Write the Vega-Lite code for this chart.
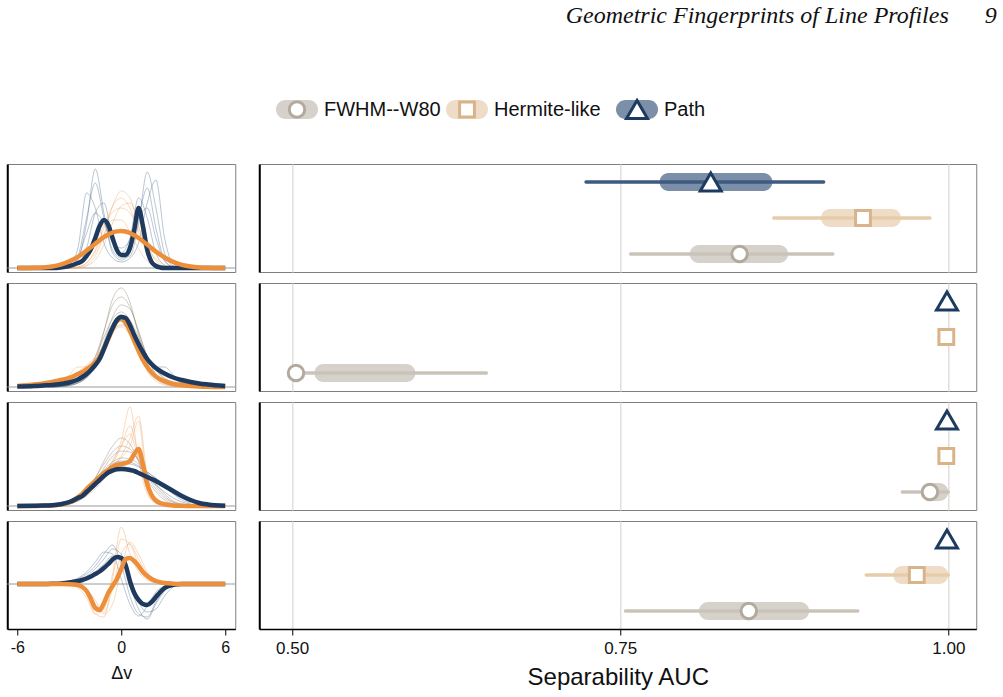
{
  "$schema": "https://vega.github.io/schema/vega-lite/v6.json",
  "padding": {"left": 6, "top": 4, "right": 28, "bottom": 0},
  "background": "white",
  "config": {
    "font": "Liberation Sans",
    "view": {"stroke": "#7f7f7f", "strokeWidth": 1},
    "axis": {"minExtent": 0},
    "line": {"strokeJoin": "round"}
  },
  "title": {
    "text": "Geometric Fingerprints of Line Profiles\u00a0\u00a0\u00a0\u00a0\u00a0\u00a09",
    "anchor": "end",
    "font": "Liberation Serif",
    "fontStyle": "italic",
    "fontWeight": "normal",
    "fontSize": 24,
    "color": "#111111",
    "dx": 20,
    "offset": 66
  },
  "datasets": {
    "base": [{"level": 0}],
    "auc": [
      {"r": 1, "set": "Path", "lo": 0.724, "q1": 0.78, "mid": 0.819, "q3": 0.866, "hi": 0.905},
      {"r": 1, "set": "Hermite-like", "lo": 0.867, "q1": 0.903, "mid": 0.935, "q3": 0.964, "hi": 0.986},
      {"r": 1, "set": "FWHM--W80", "lo": 0.758, "q1": 0.803, "mid": 0.841, "q3": 0.878, "hi": 0.912},
      {"r": 2, "set": "Path", "lo": 1, "q1": 1, "mid": 0.999, "q3": 1, "hi": 1},
      {"r": 2, "set": "Hermite-like", "lo": 0.993, "q1": 0.993, "mid": 0.9985, "q3": 1, "hi": 1},
      {"r": 2, "set": "FWHM--W80", "lo": 0.503, "q1": 0.517, "mid": 0.503, "q3": 0.594, "hi": 0.648},
      {"r": 3, "set": "Path", "lo": 1, "q1": 1, "mid": 0.999, "q3": 1, "hi": 1},
      {"r": 3, "set": "Hermite-like", "lo": 1, "q1": 1, "mid": 0.9985, "q3": 1, "hi": 1},
      {"r": 3, "set": "FWHM--W80", "lo": 0.965, "q1": 0.979, "mid": 0.986, "q3": 1, "hi": 1},
      {"r": 4, "set": "Path", "lo": 1, "q1": 1, "mid": 0.999, "q3": 1, "hi": 1},
      {"r": 4, "set": "Hermite-like", "lo": 0.9375, "q1": 0.958, "mid": 0.976, "q3": 1, "hi": 1},
      {"r": 4, "set": "FWHM--W80", "lo": 0.754, "q1": 0.81, "mid": 0.848, "q3": 0.894, "hi": 0.931}
    ],
    "prof": [
      {"r":1,"s":"P","c":0,"x":-6,"y":0},{"r":1,"s":"P","c":0,"x":-5,"y":0},{"r":1,"s":"P","c":0,"x":-4.5,"y":0},{"r":1,"s":"P","c":0,"x":-4,"y":0},{"r":1,"s":"P","c":0,"x":-3.5,"y":0.005},{"r":1,"s":"P","c":0,"x":-3,"y":0.02},{"r":1,"s":"P","c":0,"x":-2.5,"y":0.05},{"r":1,"s":"P","c":0,"x":-2.25,"y":0.07},{"r":1,"s":"P","c":0,"x":-2,"y":0.12},{"r":1,"s":"P","c":0,"x":-1.75,"y":0.19},{"r":1,"s":"P","c":0,"x":-1.5,"y":0.3},{"r":1,"s":"P","c":0,"x":-1.25,"y":0.42},{"r":1,"s":"P","c":0,"x":-1,"y":0.48},{"r":1,"s":"P","c":0,"x":-0.75,"y":0.43},{"r":1,"s":"P","c":0,"x":-0.5,"y":0.3},{"r":1,"s":"P","c":0,"x":-0.25,"y":0.18},{"r":1,"s":"P","c":0,"x":0,"y":0.13},{"r":1,"s":"P","c":0,"x":0.25,"y":0.13},{"r":1,"s":"P","c":0,"x":0.5,"y":0.2},{"r":1,"s":"P","c":0,"x":0.75,"y":0.38},{"r":1,"s":"P","c":0,"x":1,"y":0.6},{"r":1,"s":"P","c":0,"x":1.25,"y":0.42},{"r":1,"s":"P","c":0,"x":1.5,"y":0.18},{"r":1,"s":"P","c":0,"x":1.75,"y":0.06},{"r":1,"s":"P","c":0,"x":2,"y":0.02},{"r":1,"s":"P","c":0,"x":2.25,"y":0.005},{"r":1,"s":"P","c":0,"x":2.5,"y":0},{"r":1,"s":"P","c":0,"x":3,"y":0},{"r":1,"s":"P","c":0,"x":3.5,"y":0},{"r":1,"s":"P","c":0,"x":4,"y":0},{"r":1,"s":"P","c":0,"x":4.5,"y":0},{"r":1,"s":"P","c":0,"x":5,"y":0},{"r":1,"s":"P","c":0,"x":6,"y":0},
      {"r":1,"s":"H","c":0,"x":-6,"y":0},{"r":1,"s":"H","c":0,"x":-5,"y":0.003},{"r":1,"s":"H","c":0,"x":-4.5,"y":0.006},{"r":1,"s":"H","c":0,"x":-4,"y":0.015},{"r":1,"s":"H","c":0,"x":-3.5,"y":0.034},{"r":1,"s":"H","c":0,"x":-3,"y":0.066},{"r":1,"s":"H","c":0,"x":-2.5,"y":0.112},{"r":1,"s":"H","c":0,"x":-2.25,"y":0.14},{"r":1,"s":"H","c":0,"x":-2,"y":0.174},{"r":1,"s":"H","c":0,"x":-1.75,"y":0.208},{"r":1,"s":"H","c":0,"x":-1.5,"y":0.243},{"r":1,"s":"H","c":0,"x":-1.25,"y":0.277},{"r":1,"s":"H","c":0,"x":-1,"y":0.308},{"r":1,"s":"H","c":0,"x":-0.75,"y":0.334},{"r":1,"s":"H","c":0,"x":-0.5,"y":0.355},{"r":1,"s":"H","c":0,"x":-0.25,"y":0.366},{"r":1,"s":"H","c":0,"x":0,"y":0.37},{"r":1,"s":"H","c":0,"x":0.25,"y":0.365},{"r":1,"s":"H","c":0,"x":0.5,"y":0.35},{"r":1,"s":"H","c":0,"x":0.75,"y":0.327},{"r":1,"s":"H","c":0,"x":1,"y":0.3},{"r":1,"s":"H","c":0,"x":1.25,"y":0.268},{"r":1,"s":"H","c":0,"x":1.5,"y":0.234},{"r":1,"s":"H","c":0,"x":1.75,"y":0.198},{"r":1,"s":"H","c":0,"x":2,"y":0.164},{"r":1,"s":"H","c":0,"x":2.25,"y":0.133},{"r":1,"s":"H","c":0,"x":2.5,"y":0.105},{"r":1,"s":"H","c":0,"x":3,"y":0.061},{"r":1,"s":"H","c":0,"x":3.5,"y":0.032},{"r":1,"s":"H","c":0,"x":4,"y":0.015},{"r":1,"s":"H","c":0,"x":4.5,"y":0.006},{"r":1,"s":"H","c":0,"x":5,"y":0.003},{"r":1,"s":"H","c":0,"x":6,"y":0},
      {"r":1,"s":"P","c":1,"x":-4,"y":0},{"r":1,"s":"P","c":1,"x":-3.5,"y":0},{"r":1,"s":"P","c":1,"x":-3,"y":0.01},{"r":1,"s":"P","c":1,"x":-2.5,"y":0.08},{"r":1,"s":"P","c":1,"x":-2,"y":0.45},{"r":1,"s":"P","c":1,"x":-1.5,"y":0.99},{"r":1,"s":"P","c":1,"x":-1,"y":0.55},{"r":1,"s":"P","c":1,"x":-0.5,"y":0.15},{"r":1,"s":"P","c":1,"x":0,"y":0.08},{"r":1,"s":"P","c":1,"x":0.5,"y":0.15},{"r":1,"s":"P","c":1,"x":1,"y":0.5},{"r":1,"s":"P","c":1,"x":1.5,"y":0.8},{"r":1,"s":"P","c":1,"x":2,"y":0.4},{"r":1,"s":"P","c":1,"x":2.5,"y":0.08},{"r":1,"s":"P","c":1,"x":3,"y":0.01},{"r":1,"s":"P","c":1,"x":3.5,"y":0},{"r":1,"s":"P","c":1,"x":4,"y":0},
      {"r":1,"s":"P","c":2,"x":-4,"y":0},{"r":1,"s":"P","c":2,"x":-3.5,"y":0},{"r":1,"s":"P","c":2,"x":-3,"y":0.02},{"r":1,"s":"P","c":2,"x":-2.5,"y":0.12},{"r":1,"s":"P","c":2,"x":-2,"y":0.5},{"r":1,"s":"P","c":2,"x":-1.5,"y":0.85},{"r":1,"s":"P","c":2,"x":-1,"y":0.5},{"r":1,"s":"P","c":2,"x":-0.5,"y":0.18},{"r":1,"s":"P","c":2,"x":0,"y":0.1},{"r":1,"s":"P","c":2,"x":0.5,"y":0.12},{"r":1,"s":"P","c":2,"x":1,"y":0.45},{"r":1,"s":"P","c":2,"x":1.5,"y":0.96},{"r":1,"s":"P","c":2,"x":2,"y":0.6},{"r":1,"s":"P","c":2,"x":2.5,"y":0.15},{"r":1,"s":"P","c":2,"x":3,"y":0.02},{"r":1,"s":"P","c":2,"x":3.5,"y":0},{"r":1,"s":"P","c":2,"x":4,"y":0},
      {"r":1,"s":"P","c":3,"x":-4,"y":0},{"r":1,"s":"P","c":3,"x":-3.5,"y":0},{"r":1,"s":"P","c":3,"x":-3,"y":0.01},{"r":1,"s":"P","c":3,"x":-2.5,"y":0.04},{"r":1,"s":"P","c":3,"x":-2,"y":0.2},{"r":1,"s":"P","c":3,"x":-1.5,"y":0.55},{"r":1,"s":"P","c":3,"x":-1,"y":0.65},{"r":1,"s":"P","c":3,"x":-0.5,"y":0.3},{"r":1,"s":"P","c":3,"x":0,"y":0.15},{"r":1,"s":"P","c":3,"x":0.5,"y":0.3},{"r":1,"s":"P","c":3,"x":1,"y":0.7},{"r":1,"s":"P","c":3,"x":1.5,"y":0.5},{"r":1,"s":"P","c":3,"x":2,"y":0.15},{"r":1,"s":"P","c":3,"x":2.5,"y":0.03},{"r":1,"s":"P","c":3,"x":3,"y":0},{"r":1,"s":"P","c":3,"x":3.5,"y":0},{"r":1,"s":"P","c":3,"x":4,"y":0},
      {"r":1,"s":"P","c":4,"x":-4,"y":0},{"r":1,"s":"P","c":4,"x":-3.5,"y":0.01},{"r":1,"s":"P","c":4,"x":-3,"y":0.04},{"r":1,"s":"P","c":4,"x":-2.5,"y":0.2},{"r":1,"s":"P","c":4,"x":-2,"y":0.75},{"r":1,"s":"P","c":4,"x":-1.5,"y":0.6},{"r":1,"s":"P","c":4,"x":-1,"y":0.25},{"r":1,"s":"P","c":4,"x":-0.5,"y":0.1},{"r":1,"s":"P","c":4,"x":0,"y":0.06},{"r":1,"s":"P","c":4,"x":0.5,"y":0.1},{"r":1,"s":"P","c":4,"x":1,"y":0.25},{"r":1,"s":"P","c":4,"x":1.5,"y":0.65},{"r":1,"s":"P","c":4,"x":2,"y":0.88},{"r":1,"s":"P","c":4,"x":2.5,"y":0.3},{"r":1,"s":"P","c":4,"x":3,"y":0.04},{"r":1,"s":"P","c":4,"x":3.5,"y":0.01},{"r":1,"s":"P","c":4,"x":4,"y":0},
      {"r":1,"s":"P","c":5,"x":-4,"y":0},{"r":1,"s":"P","c":5,"x":-3.5,"y":0},{"r":1,"s":"P","c":5,"x":-3,"y":0.02},{"r":1,"s":"P","c":5,"x":-2.5,"y":0.1},{"r":1,"s":"P","c":5,"x":-2,"y":0.35},{"r":1,"s":"P","c":5,"x":-1.5,"y":0.55},{"r":1,"s":"P","c":5,"x":-1,"y":0.45},{"r":1,"s":"P","c":5,"x":-0.5,"y":0.25},{"r":1,"s":"P","c":5,"x":0,"y":0.2},{"r":1,"s":"P","c":5,"x":0.5,"y":0.28},{"r":1,"s":"P","c":5,"x":1,"y":0.5},{"r":1,"s":"P","c":5,"x":1.5,"y":0.6},{"r":1,"s":"P","c":5,"x":2,"y":0.3},{"r":1,"s":"P","c":5,"x":2.5,"y":0.07},{"r":1,"s":"P","c":5,"x":3,"y":0.01},{"r":1,"s":"P","c":5,"x":3.5,"y":0},{"r":1,"s":"P","c":5,"x":4,"y":0},
      {"r":1,"s":"H","c":1,"x":-4,"y":0},{"r":1,"s":"H","c":1,"x":-3.5,"y":0},{"r":1,"s":"H","c":1,"x":-3,"y":0},{"r":1,"s":"H","c":1,"x":-2.5,"y":0.005},{"r":1,"s":"H","c":1,"x":-2,"y":0.03},{"r":1,"s":"H","c":1,"x":-1.5,"y":0.12},{"r":1,"s":"H","c":1,"x":-1,"y":0.33},{"r":1,"s":"H","c":1,"x":-0.5,"y":0.62},{"r":1,"s":"H","c":1,"x":0,"y":0.77},{"r":1,"s":"H","c":1,"x":0.5,"y":0.7},{"r":1,"s":"H","c":1,"x":1,"y":0.42},{"r":1,"s":"H","c":1,"x":1.5,"y":0.16},{"r":1,"s":"H","c":1,"x":2,"y":0.04},{"r":1,"s":"H","c":1,"x":2.5,"y":0.005},{"r":1,"s":"H","c":1,"x":3,"y":0},{"r":1,"s":"H","c":1,"x":3.5,"y":0},{"r":1,"s":"H","c":1,"x":4,"y":0},
      {"r":1,"s":"H","c":2,"x":-4,"y":0},{"r":1,"s":"H","c":2,"x":-3.5,"y":0},{"r":1,"s":"H","c":2,"x":-3,"y":0},{"r":1,"s":"H","c":2,"x":-2.5,"y":0.01},{"r":1,"s":"H","c":2,"x":-2,"y":0.05},{"r":1,"s":"H","c":2,"x":-1.5,"y":0.18},{"r":1,"s":"H","c":2,"x":-1,"y":0.4},{"r":1,"s":"H","c":2,"x":-0.5,"y":0.62},{"r":1,"s":"H","c":2,"x":0,"y":0.7},{"r":1,"s":"H","c":2,"x":0.5,"y":0.6},{"r":1,"s":"H","c":2,"x":1,"y":0.36},{"r":1,"s":"H","c":2,"x":1.5,"y":0.15},{"r":1,"s":"H","c":2,"x":2,"y":0.04},{"r":1,"s":"H","c":2,"x":2.5,"y":0.01},{"r":1,"s":"H","c":2,"x":3,"y":0},{"r":1,"s":"H","c":2,"x":3.5,"y":0},{"r":1,"s":"H","c":2,"x":4,"y":0},
      {"r":1,"s":"H","c":3,"x":-4,"y":0},{"r":1,"s":"H","c":3,"x":-3.5,"y":0},{"r":1,"s":"H","c":3,"x":-3,"y":0},{"r":1,"s":"H","c":3,"x":-2.5,"y":0},{"r":1,"s":"H","c":3,"x":-2,"y":0.02},{"r":1,"s":"H","c":3,"x":-1.5,"y":0.08},{"r":1,"s":"H","c":3,"x":-1,"y":0.23},{"r":1,"s":"H","c":3,"x":-0.5,"y":0.45},{"r":1,"s":"H","c":3,"x":0,"y":0.62},{"r":1,"s":"H","c":3,"x":0.5,"y":0.65},{"r":1,"s":"H","c":3,"x":1,"y":0.48},{"r":1,"s":"H","c":3,"x":1.5,"y":0.23},{"r":1,"s":"H","c":3,"x":2,"y":0.07},{"r":1,"s":"H","c":3,"x":2.5,"y":0.015},{"r":1,"s":"H","c":3,"x":3,"y":0},{"r":1,"s":"H","c":3,"x":3.5,"y":0},{"r":1,"s":"H","c":3,"x":4,"y":0},
      {"r":1,"s":"H","c":4,"x":-4,"y":0},{"r":1,"s":"H","c":4,"x":-3.5,"y":0},{"r":1,"s":"H","c":4,"x":-3,"y":0.01},{"r":1,"s":"H","c":4,"x":-2.5,"y":0.03},{"r":1,"s":"H","c":4,"x":-2,"y":0.1},{"r":1,"s":"H","c":4,"x":-1.5,"y":0.25},{"r":1,"s":"H","c":4,"x":-1,"y":0.43},{"r":1,"s":"H","c":4,"x":-0.5,"y":0.56},{"r":1,"s":"H","c":4,"x":0,"y":0.6},{"r":1,"s":"H","c":4,"x":0.5,"y":0.55},{"r":1,"s":"H","c":4,"x":1,"y":0.4},{"r":1,"s":"H","c":4,"x":1.5,"y":0.22},{"r":1,"s":"H","c":4,"x":2,"y":0.09},{"r":1,"s":"H","c":4,"x":2.5,"y":0.03},{"r":1,"s":"H","c":4,"x":3,"y":0.005},{"r":1,"s":"H","c":4,"x":3.5,"y":0},{"r":1,"s":"H","c":4,"x":4,"y":0},
      {"r":1,"s":"H","c":5,"x":-4,"y":0},{"r":1,"s":"H","c":5,"x":-3.5,"y":0},{"r":1,"s":"H","c":5,"x":-3,"y":0},{"r":1,"s":"H","c":5,"x":-2.5,"y":0.01},{"r":1,"s":"H","c":5,"x":-2,"y":0.05},{"r":1,"s":"H","c":5,"x":-1.5,"y":0.16},{"r":1,"s":"H","c":5,"x":-1,"y":0.33},{"r":1,"s":"H","c":5,"x":-0.5,"y":0.48},{"r":1,"s":"H","c":5,"x":0,"y":0.48},{"r":1,"s":"H","c":5,"x":0.5,"y":0.36},{"r":1,"s":"H","c":5,"x":1,"y":0.19},{"r":1,"s":"H","c":5,"x":1.5,"y":0.07},{"r":1,"s":"H","c":5,"x":2,"y":0.02},{"r":1,"s":"H","c":5,"x":2.5,"y":0},{"r":1,"s":"H","c":5,"x":3,"y":0},{"r":1,"s":"H","c":5,"x":3.5,"y":0},{"r":1,"s":"H","c":5,"x":4,"y":0},

      {"r":2,"s":"P","c":0,"x":-6,"y":0.005},{"r":2,"s":"P","c":0,"x":-5,"y":0.01},{"r":2,"s":"P","c":0,"x":-4.5,"y":0.015},{"r":2,"s":"P","c":0,"x":-4,"y":0.02},{"r":2,"s":"P","c":0,"x":-3.5,"y":0.03},{"r":2,"s":"P","c":0,"x":-3,"y":0.045},{"r":2,"s":"P","c":0,"x":-2.5,"y":0.075},{"r":2,"s":"P","c":0,"x":-2.25,"y":0.1},{"r":2,"s":"P","c":0,"x":-2,"y":0.13},{"r":2,"s":"P","c":0,"x":-1.75,"y":0.17},{"r":2,"s":"P","c":0,"x":-1.5,"y":0.22},{"r":2,"s":"P","c":0,"x":-1.25,"y":0.28},{"r":2,"s":"P","c":0,"x":-1,"y":0.38},{"r":2,"s":"P","c":0,"x":-0.75,"y":0.49},{"r":2,"s":"P","c":0,"x":-0.5,"y":0.59},{"r":2,"s":"P","c":0,"x":-0.25,"y":0.67},{"r":2,"s":"P","c":0,"x":0,"y":0.7},{"r":2,"s":"P","c":0,"x":0.25,"y":0.69},{"r":2,"s":"P","c":0,"x":0.5,"y":0.62},{"r":2,"s":"P","c":0,"x":0.75,"y":0.52},{"r":2,"s":"P","c":0,"x":1,"y":0.43},{"r":2,"s":"P","c":0,"x":1.25,"y":0.35},{"r":2,"s":"P","c":0,"x":1.5,"y":0.28},{"r":2,"s":"P","c":0,"x":1.75,"y":0.23},{"r":2,"s":"P","c":0,"x":2,"y":0.19},{"r":2,"s":"P","c":0,"x":2.25,"y":0.16},{"r":2,"s":"P","c":0,"x":2.5,"y":0.135},{"r":2,"s":"P","c":0,"x":3,"y":0.095},{"r":2,"s":"P","c":0,"x":3.5,"y":0.07},{"r":2,"s":"P","c":0,"x":4,"y":0.05},{"r":2,"s":"P","c":0,"x":4.5,"y":0.035},{"r":2,"s":"P","c":0,"x":5,"y":0.025},{"r":2,"s":"P","c":0,"x":6,"y":0.01},
      {"r":2,"s":"H","c":0,"x":-6,"y":0.01},{"r":2,"s":"H","c":0,"x":-5,"y":0.025},{"r":2,"s":"H","c":0,"x":-4.5,"y":0.035},{"r":2,"s":"H","c":0,"x":-4,"y":0.05},{"r":2,"s":"H","c":0,"x":-3.5,"y":0.07},{"r":2,"s":"H","c":0,"x":-3,"y":0.09},{"r":2,"s":"H","c":0,"x":-2.5,"y":0.13},{"r":2,"s":"H","c":0,"x":-2.25,"y":0.15},{"r":2,"s":"H","c":0,"x":-2,"y":0.18},{"r":2,"s":"H","c":0,"x":-1.75,"y":0.21},{"r":2,"s":"H","c":0,"x":-1.5,"y":0.25},{"r":2,"s":"H","c":0,"x":-1.25,"y":0.3},{"r":2,"s":"H","c":0,"x":-1,"y":0.38},{"r":2,"s":"H","c":0,"x":-0.75,"y":0.48},{"r":2,"s":"H","c":0,"x":-0.5,"y":0.58},{"r":2,"s":"H","c":0,"x":-0.25,"y":0.66},{"r":2,"s":"H","c":0,"x":0,"y":0.68},{"r":2,"s":"H","c":0,"x":0.25,"y":0.64},{"r":2,"s":"H","c":0,"x":0.5,"y":0.56},{"r":2,"s":"H","c":0,"x":0.75,"y":0.46},{"r":2,"s":"H","c":0,"x":1,"y":0.36},{"r":2,"s":"H","c":0,"x":1.25,"y":0.27},{"r":2,"s":"H","c":0,"x":1.5,"y":0.2},{"r":2,"s":"H","c":0,"x":1.75,"y":0.145},{"r":2,"s":"H","c":0,"x":2,"y":0.105},{"r":2,"s":"H","c":0,"x":2.25,"y":0.078},{"r":2,"s":"H","c":0,"x":2.5,"y":0.058},{"r":2,"s":"H","c":0,"x":3,"y":0.033},{"r":2,"s":"H","c":0,"x":3.5,"y":0.019},{"r":2,"s":"H","c":0,"x":4,"y":0.011},{"r":2,"s":"H","c":0,"x":4.5,"y":0.006},{"r":2,"s":"H","c":0,"x":5,"y":0.003},{"r":2,"s":"H","c":0,"x":6,"y":0},
      {"r":2,"s":"F","c":1,"x":-4,"y":0},{"r":2,"s":"F","c":1,"x":-3.5,"y":0.005},{"r":2,"s":"F","c":1,"x":-3,"y":0.015},{"r":2,"s":"F","c":1,"x":-2.5,"y":0.04},{"r":2,"s":"F","c":1,"x":-2,"y":0.1},{"r":2,"s":"F","c":1,"x":-1.5,"y":0.25},{"r":2,"s":"F","c":1,"x":-1,"y":0.55},{"r":2,"s":"F","c":1,"x":-0.5,"y":0.88},{"r":2,"s":"F","c":1,"x":0,"y":0.99},{"r":2,"s":"F","c":1,"x":0.5,"y":0.85},{"r":2,"s":"F","c":1,"x":1,"y":0.52},{"r":2,"s":"F","c":1,"x":1.5,"y":0.24},{"r":2,"s":"F","c":1,"x":2,"y":0.09},{"r":2,"s":"F","c":1,"x":2.5,"y":0.035},{"r":2,"s":"F","c":1,"x":3,"y":0.012},{"r":2,"s":"F","c":1,"x":3.5,"y":0.004},{"r":2,"s":"F","c":1,"x":4,"y":0},
      {"r":2,"s":"F","c":2,"x":-4,"y":0.005},{"r":2,"s":"F","c":2,"x":-3.5,"y":0.01},{"r":2,"s":"F","c":2,"x":-3,"y":0.025},{"r":2,"s":"F","c":2,"x":-2.5,"y":0.06},{"r":2,"s":"F","c":2,"x":-2,"y":0.14},{"r":2,"s":"F","c":2,"x":-1.5,"y":0.3},{"r":2,"s":"F","c":2,"x":-1,"y":0.56},{"r":2,"s":"F","c":2,"x":-0.5,"y":0.82},{"r":2,"s":"F","c":2,"x":0,"y":0.9},{"r":2,"s":"F","c":2,"x":0.5,"y":0.8},{"r":2,"s":"F","c":2,"x":1,"y":0.55},{"r":2,"s":"F","c":2,"x":1.5,"y":0.3},{"r":2,"s":"F","c":2,"x":2,"y":0.13},{"r":2,"s":"F","c":2,"x":2.5,"y":0.05},{"r":2,"s":"F","c":2,"x":3,"y":0.02},{"r":2,"s":"F","c":2,"x":3.5,"y":0.008},{"r":2,"s":"F","c":2,"x":4,"y":0.003},
      {"r":2,"s":"F","c":3,"x":-4,"y":0},{"r":2,"s":"F","c":3,"x":-3.5,"y":0.005},{"r":2,"s":"F","c":3,"x":-3,"y":0.015},{"r":2,"s":"F","c":3,"x":-2.5,"y":0.04},{"r":2,"s":"F","c":3,"x":-2,"y":0.1},{"r":2,"s":"F","c":3,"x":-1.5,"y":0.22},{"r":2,"s":"F","c":3,"x":-1,"y":0.45},{"r":2,"s":"F","c":3,"x":-0.5,"y":0.7},{"r":2,"s":"F","c":3,"x":0,"y":0.82},{"r":2,"s":"F","c":3,"x":0.5,"y":0.78},{"r":2,"s":"F","c":3,"x":1,"y":0.56},{"r":2,"s":"F","c":3,"x":1.5,"y":0.3},{"r":2,"s":"F","c":3,"x":2,"y":0.12},{"r":2,"s":"F","c":3,"x":2.5,"y":0.045},{"r":2,"s":"F","c":3,"x":3,"y":0.015},{"r":2,"s":"F","c":3,"x":3.5,"y":0.005},{"r":2,"s":"F","c":3,"x":4,"y":0},
      {"r":2,"s":"F","c":4,"x":-4,"y":0.01},{"r":2,"s":"F","c":4,"x":-3.5,"y":0.02},{"r":2,"s":"F","c":4,"x":-3,"y":0.04},{"r":2,"s":"F","c":4,"x":-2.5,"y":0.08},{"r":2,"s":"F","c":4,"x":-2,"y":0.16},{"r":2,"s":"F","c":4,"x":-1.5,"y":0.3},{"r":2,"s":"F","c":4,"x":-1,"y":0.5},{"r":2,"s":"F","c":4,"x":-0.5,"y":0.68},{"r":2,"s":"F","c":4,"x":0,"y":0.75},{"r":2,"s":"F","c":4,"x":0.5,"y":0.67},{"r":2,"s":"F","c":4,"x":1,"y":0.5},{"r":2,"s":"F","c":4,"x":1.5,"y":0.31},{"r":2,"s":"F","c":4,"x":2,"y":0.17},{"r":2,"s":"F","c":4,"x":2.5,"y":0.08},{"r":2,"s":"F","c":4,"x":3,"y":0.035},{"r":2,"s":"F","c":4,"x":3.5,"y":0.015},{"r":2,"s":"F","c":4,"x":4,"y":0.005},
      {"r":2,"s":"F","c":5,"x":-4,"y":0.01},{"r":2,"s":"F","c":5,"x":-3.5,"y":0.02},{"r":2,"s":"F","c":5,"x":-3,"y":0.04},{"r":2,"s":"F","c":5,"x":-2.5,"y":0.08},{"r":2,"s":"F","c":5,"x":-2,"y":0.15},{"r":2,"s":"F","c":5,"x":-1.5,"y":0.26},{"r":2,"s":"F","c":5,"x":-1,"y":0.42},{"r":2,"s":"F","c":5,"x":-0.5,"y":0.56},{"r":2,"s":"F","c":5,"x":0,"y":0.62},{"r":2,"s":"F","c":5,"x":0.5,"y":0.57},{"r":2,"s":"F","c":5,"x":1,"y":0.44},{"r":2,"s":"F","c":5,"x":1.5,"y":0.29},{"r":2,"s":"F","c":5,"x":2,"y":0.17},{"r":2,"s":"F","c":5,"x":2.5,"y":0.09},{"r":2,"s":"F","c":5,"x":3,"y":0.045},{"r":2,"s":"F","c":5,"x":3.5,"y":0.02},{"r":2,"s":"F","c":5,"x":4,"y":0.01},
      {"r":2,"s":"H","c":1,"x":-4,"y":0.02},{"r":2,"s":"H","c":1,"x":-3.5,"y":0.05},{"r":2,"s":"H","c":1,"x":-3,"y":0.12},{"r":2,"s":"H","c":1,"x":-2.5,"y":0.2},{"r":2,"s":"H","c":1,"x":-2,"y":0.2},{"r":2,"s":"H","c":1,"x":-1.5,"y":0.25},{"r":2,"s":"H","c":1,"x":-1,"y":0.4},{"r":2,"s":"H","c":1,"x":-0.5,"y":0.6},{"r":2,"s":"H","c":1,"x":0,"y":0.68},{"r":2,"s":"H","c":1,"x":0.5,"y":0.58},{"r":2,"s":"H","c":1,"x":1,"y":0.38},{"r":2,"s":"H","c":1,"x":1.5,"y":0.2},{"r":2,"s":"H","c":1,"x":2,"y":0.09},{"r":2,"s":"H","c":1,"x":2.5,"y":0.04},{"r":2,"s":"H","c":1,"x":3,"y":0.015},{"r":2,"s":"H","c":1,"x":3.5,"y":0.005},{"r":2,"s":"H","c":1,"x":4,"y":0},
      {"r":2,"s":"H","c":2,"x":-4,"y":0.01},{"r":2,"s":"H","c":2,"x":-3.5,"y":0.03},{"r":2,"s":"H","c":2,"x":-3,"y":0.07},{"r":2,"s":"H","c":2,"x":-2.5,"y":0.12},{"r":2,"s":"H","c":2,"x":-2,"y":0.16},{"r":2,"s":"H","c":2,"x":-1.5,"y":0.24},{"r":2,"s":"H","c":2,"x":-1,"y":0.42},{"r":2,"s":"H","c":2,"x":-0.5,"y":0.62},{"r":2,"s":"H","c":2,"x":0,"y":0.72},{"r":2,"s":"H","c":2,"x":0.5,"y":0.6},{"r":2,"s":"H","c":2,"x":1,"y":0.36},{"r":2,"s":"H","c":2,"x":1.5,"y":0.16},{"r":2,"s":"H","c":2,"x":2,"y":0.06},{"r":2,"s":"H","c":2,"x":2.5,"y":0.02},{"r":2,"s":"H","c":2,"x":3,"y":0.005},{"r":2,"s":"H","c":2,"x":3.5,"y":0},{"r":2,"s":"H","c":2,"x":4,"y":0},
      {"r":2,"s":"H","c":3,"x":-4,"y":0.03},{"r":2,"s":"H","c":3,"x":-3.5,"y":0.06},{"r":2,"s":"H","c":3,"x":-3,"y":0.1},{"r":2,"s":"H","c":3,"x":-2.5,"y":0.15},{"r":2,"s":"H","c":3,"x":-2,"y":0.22},{"r":2,"s":"H","c":3,"x":-1.5,"y":0.3},{"r":2,"s":"H","c":3,"x":-1,"y":0.42},{"r":2,"s":"H","c":3,"x":-0.5,"y":0.55},{"r":2,"s":"H","c":3,"x":0,"y":0.6},{"r":2,"s":"H","c":3,"x":0.5,"y":0.52},{"r":2,"s":"H","c":3,"x":1,"y":0.35},{"r":2,"s":"H","c":3,"x":1.5,"y":0.18},{"r":2,"s":"H","c":3,"x":2,"y":0.08},{"r":2,"s":"H","c":3,"x":2.5,"y":0.03},{"r":2,"s":"H","c":3,"x":3,"y":0.01},{"r":2,"s":"H","c":3,"x":3.5,"y":0},{"r":2,"s":"H","c":3,"x":4,"y":0},
      {"r":2,"s":"P","c":1,"x":-4,"y":0},{"r":2,"s":"P","c":1,"x":-3.5,"y":0.005},{"r":2,"s":"P","c":1,"x":-3,"y":0.02},{"r":2,"s":"P","c":1,"x":-2.5,"y":0.05},{"r":2,"s":"P","c":1,"x":-2,"y":0.1},{"r":2,"s":"P","c":1,"x":-1.5,"y":0.2},{"r":2,"s":"P","c":1,"x":-1,"y":0.4},{"r":2,"s":"P","c":1,"x":-0.5,"y":0.62},{"r":2,"s":"P","c":1,"x":0,"y":0.7},{"r":2,"s":"P","c":1,"x":0.5,"y":0.58},{"r":2,"s":"P","c":1,"x":1,"y":0.38},{"r":2,"s":"P","c":1,"x":1.5,"y":0.24},{"r":2,"s":"P","c":1,"x":2,"y":0.2},{"r":2,"s":"P","c":1,"x":2.5,"y":0.2},{"r":2,"s":"P","c":1,"x":3,"y":0.12},{"r":2,"s":"P","c":1,"x":3.5,"y":0.05},{"r":2,"s":"P","c":1,"x":4,"y":0.02},
      {"r":2,"s":"P","c":2,"x":-4,"y":0.005},{"r":2,"s":"P","c":2,"x":-3.5,"y":0.01},{"r":2,"s":"P","c":2,"x":-3,"y":0.03},{"r":2,"s":"P","c":2,"x":-2.5,"y":0.06},{"r":2,"s":"P","c":2,"x":-2,"y":0.12},{"r":2,"s":"P","c":2,"x":-1.5,"y":0.24},{"r":2,"s":"P","c":2,"x":-1,"y":0.44},{"r":2,"s":"P","c":2,"x":-0.5,"y":0.64},{"r":2,"s":"P","c":2,"x":0,"y":0.72},{"r":2,"s":"P","c":2,"x":0.5,"y":0.64},{"r":2,"s":"P","c":2,"x":1,"y":0.45},{"r":2,"s":"P","c":2,"x":1.5,"y":0.3},{"r":2,"s":"P","c":2,"x":2,"y":0.2},{"r":2,"s":"P","c":2,"x":2.5,"y":0.14},{"r":2,"s":"P","c":2,"x":3,"y":0.08},{"r":2,"s":"P","c":2,"x":3.5,"y":0.04},{"r":2,"s":"P","c":2,"x":4,"y":0.015},
      {"r":2,"s":"P","c":3,"x":-4,"y":0},{"r":2,"s":"P","c":3,"x":-3.5,"y":0.005},{"r":2,"s":"P","c":3,"x":-3,"y":0.015},{"r":2,"s":"P","c":3,"x":-2.5,"y":0.04},{"r":2,"s":"P","c":3,"x":-2,"y":0.09},{"r":2,"s":"P","c":3,"x":-1.5,"y":0.2},{"r":2,"s":"P","c":3,"x":-1,"y":0.38},{"r":2,"s":"P","c":3,"x":-0.5,"y":0.58},{"r":2,"s":"P","c":3,"x":0,"y":0.66},{"r":2,"s":"P","c":3,"x":0.5,"y":0.6},{"r":2,"s":"P","c":3,"x":1,"y":0.42},{"r":2,"s":"P","c":3,"x":1.5,"y":0.26},{"r":2,"s":"P","c":3,"x":2,"y":0.18},{"r":2,"s":"P","c":3,"x":2.5,"y":0.15},{"r":2,"s":"P","c":3,"x":3,"y":0.09},{"r":2,"s":"P","c":3,"x":3.5,"y":0.04},{"r":2,"s":"P","c":3,"x":4,"y":0.01},

      {"r":3,"s":"P","c":0,"x":-6,"y":0},{"r":3,"s":"P","c":0,"x":-5,"y":0.002},{"r":3,"s":"P","c":0,"x":-4.5,"y":0.004},{"r":3,"s":"P","c":0,"x":-4,"y":0.008},{"r":3,"s":"P","c":0,"x":-3.5,"y":0.018},{"r":3,"s":"P","c":0,"x":-3,"y":0.04},{"r":3,"s":"P","c":0,"x":-2.5,"y":0.08},{"r":3,"s":"P","c":0,"x":-2.25,"y":0.1},{"r":3,"s":"P","c":0,"x":-2,"y":0.14},{"r":3,"s":"P","c":0,"x":-1.75,"y":0.18},{"r":3,"s":"P","c":0,"x":-1.5,"y":0.22},{"r":3,"s":"P","c":0,"x":-1.25,"y":0.26},{"r":3,"s":"P","c":0,"x":-1,"y":0.3},{"r":3,"s":"P","c":0,"x":-0.75,"y":0.335},{"r":3,"s":"P","c":0,"x":-0.5,"y":0.355},{"r":3,"s":"P","c":0,"x":-0.25,"y":0.368},{"r":3,"s":"P","c":0,"x":0,"y":0.37},{"r":3,"s":"P","c":0,"x":0.25,"y":0.368},{"r":3,"s":"P","c":0,"x":0.5,"y":0.36},{"r":3,"s":"P","c":0,"x":0.75,"y":0.35},{"r":3,"s":"P","c":0,"x":1,"y":0.33},{"r":3,"s":"P","c":0,"x":1.25,"y":0.31},{"r":3,"s":"P","c":0,"x":1.5,"y":0.29},{"r":3,"s":"P","c":0,"x":1.75,"y":0.27},{"r":3,"s":"P","c":0,"x":2,"y":0.25},{"r":3,"s":"P","c":0,"x":2.25,"y":0.225},{"r":3,"s":"P","c":0,"x":2.5,"y":0.2},{"r":3,"s":"P","c":0,"x":3,"y":0.15},{"r":3,"s":"P","c":0,"x":3.5,"y":0.1},{"r":3,"s":"P","c":0,"x":4,"y":0.06},{"r":3,"s":"P","c":0,"x":4.5,"y":0.03},{"r":3,"s":"P","c":0,"x":5,"y":0.015},{"r":3,"s":"P","c":0,"x":6,"y":0.002},
      {"r":3,"s":"H","c":0,"x":-6,"y":0},{"r":3,"s":"H","c":0,"x":-5,"y":0},{"r":3,"s":"H","c":0,"x":-4.5,"y":0.003},{"r":3,"s":"H","c":0,"x":-4,"y":0.006},{"r":3,"s":"H","c":0,"x":-3.5,"y":0.015},{"r":3,"s":"H","c":0,"x":-3,"y":0.035},{"r":3,"s":"H","c":0,"x":-2.5,"y":0.09},{"r":3,"s":"H","c":0,"x":-2.25,"y":0.12},{"r":3,"s":"H","c":0,"x":-2,"y":0.17},{"r":3,"s":"H","c":0,"x":-1.75,"y":0.21},{"r":3,"s":"H","c":0,"x":-1.5,"y":0.25},{"r":3,"s":"H","c":0,"x":-1.25,"y":0.29},{"r":3,"s":"H","c":0,"x":-1,"y":0.33},{"r":3,"s":"H","c":0,"x":-0.75,"y":0.36},{"r":3,"s":"H","c":0,"x":-0.5,"y":0.39},{"r":3,"s":"H","c":0,"x":-0.25,"y":0.41},{"r":3,"s":"H","c":0,"x":0,"y":0.42},{"r":3,"s":"H","c":0,"x":0.25,"y":0.43},{"r":3,"s":"H","c":0,"x":0.5,"y":0.45},{"r":3,"s":"H","c":0,"x":0.75,"y":0.52},{"r":3,"s":"H","c":0,"x":1,"y":0.57},{"r":3,"s":"H","c":0,"x":1.25,"y":0.42},{"r":3,"s":"H","c":0,"x":1.5,"y":0.22},{"r":3,"s":"H","c":0,"x":1.75,"y":0.11},{"r":3,"s":"H","c":0,"x":2,"y":0.055},{"r":3,"s":"H","c":0,"x":2.25,"y":0.03},{"r":3,"s":"H","c":0,"x":2.5,"y":0.018},{"r":3,"s":"H","c":0,"x":3,"y":0.006},{"r":3,"s":"H","c":0,"x":3.5,"y":0.002},{"r":3,"s":"H","c":0,"x":4,"y":0},{"r":3,"s":"H","c":0,"x":4.5,"y":0},{"r":3,"s":"H","c":0,"x":5,"y":0},{"r":3,"s":"H","c":0,"x":6,"y":0},
      {"r":3,"s":"F","c":1,"x":-4,"y":0},{"r":3,"s":"F","c":1,"x":-3.5,"y":0.01},{"r":3,"s":"F","c":1,"x":-3,"y":0.03},{"r":3,"s":"F","c":1,"x":-2.5,"y":0.07},{"r":3,"s":"F","c":1,"x":-2,"y":0.15},{"r":3,"s":"F","c":1,"x":-1.5,"y":0.28},{"r":3,"s":"F","c":1,"x":-1,"y":0.45},{"r":3,"s":"F","c":1,"x":-0.5,"y":0.6},{"r":3,"s":"F","c":1,"x":0,"y":0.68},{"r":3,"s":"F","c":1,"x":0.5,"y":0.62},{"r":3,"s":"F","c":1,"x":1,"y":0.45},{"r":3,"s":"F","c":1,"x":1.5,"y":0.27},{"r":3,"s":"F","c":1,"x":2,"y":0.14},{"r":3,"s":"F","c":1,"x":2.5,"y":0.06},{"r":3,"s":"F","c":1,"x":3,"y":0.02},{"r":3,"s":"F","c":1,"x":3.5,"y":0.01},{"r":3,"s":"F","c":1,"x":4,"y":0},
      {"r":3,"s":"F","c":2,"x":-4,"y":0.005},{"r":3,"s":"F","c":2,"x":-3.5,"y":0.015},{"r":3,"s":"F","c":2,"x":-3,"y":0.04},{"r":3,"s":"F","c":2,"x":-2.5,"y":0.08},{"r":3,"s":"F","c":2,"x":-2,"y":0.16},{"r":3,"s":"F","c":2,"x":-1.5,"y":0.28},{"r":3,"s":"F","c":2,"x":-1,"y":0.42},{"r":3,"s":"F","c":2,"x":-0.5,"y":0.54},{"r":3,"s":"F","c":2,"x":0,"y":0.6},{"r":3,"s":"F","c":2,"x":0.5,"y":0.57},{"r":3,"s":"F","c":2,"x":1,"y":0.45},{"r":3,"s":"F","c":2,"x":1.5,"y":0.3},{"r":3,"s":"F","c":2,"x":2,"y":0.17},{"r":3,"s":"F","c":2,"x":2.5,"y":0.08},{"r":3,"s":"F","c":2,"x":3,"y":0.035},{"r":3,"s":"F","c":2,"x":3.5,"y":0.013},{"r":3,"s":"F","c":2,"x":4,"y":0.005},
      {"r":3,"s":"F","c":3,"x":-4,"y":0},{"r":3,"s":"F","c":3,"x":-3.5,"y":0.01},{"r":3,"s":"F","c":3,"x":-3,"y":0.03},{"r":3,"s":"F","c":3,"x":-2.5,"y":0.07},{"r":3,"s":"F","c":3,"x":-2,"y":0.14},{"r":3,"s":"F","c":3,"x":-1.5,"y":0.25},{"r":3,"s":"F","c":3,"x":-1,"y":0.38},{"r":3,"s":"F","c":3,"x":-0.5,"y":0.5},{"r":3,"s":"F","c":3,"x":0,"y":0.55},{"r":3,"s":"F","c":3,"x":0.5,"y":0.54},{"r":3,"s":"F","c":3,"x":1,"y":0.46},{"r":3,"s":"F","c":3,"x":1.5,"y":0.33},{"r":3,"s":"F","c":3,"x":2,"y":0.2},{"r":3,"s":"F","c":3,"x":2.5,"y":0.1},{"r":3,"s":"F","c":3,"x":3,"y":0.04},{"r":3,"s":"F","c":3,"x":3.5,"y":0.015},{"r":3,"s":"F","c":3,"x":4,"y":0.005},
      {"r":3,"s":"F","c":4,"x":-4,"y":0.005},{"r":3,"s":"F","c":4,"x":-3.5,"y":0.015},{"r":3,"s":"F","c":4,"x":-3,"y":0.04},{"r":3,"s":"F","c":4,"x":-2.5,"y":0.08},{"r":3,"s":"F","c":4,"x":-2,"y":0.15},{"r":3,"s":"F","c":4,"x":-1.5,"y":0.25},{"r":3,"s":"F","c":4,"x":-1,"y":0.36},{"r":3,"s":"F","c":4,"x":-0.5,"y":0.44},{"r":3,"s":"F","c":4,"x":0,"y":0.48},{"r":3,"s":"F","c":4,"x":0.5,"y":0.47},{"r":3,"s":"F","c":4,"x":1,"y":0.42},{"r":3,"s":"F","c":4,"x":1.5,"y":0.33},{"r":3,"s":"F","c":4,"x":2,"y":0.22},{"r":3,"s":"F","c":4,"x":2.5,"y":0.12},{"r":3,"s":"F","c":4,"x":3,"y":0.05},{"r":3,"s":"F","c":4,"x":3.5,"y":0.02},{"r":3,"s":"F","c":4,"x":4,"y":0.008},
      {"r":3,"s":"H","c":1,"x":-4,"y":0},{"r":3,"s":"H","c":1,"x":-3.5,"y":0.01},{"r":3,"s":"H","c":1,"x":-3,"y":0.03},{"r":3,"s":"H","c":1,"x":-2.5,"y":0.07},{"r":3,"s":"H","c":1,"x":-2,"y":0.14},{"r":3,"s":"H","c":1,"x":-1.5,"y":0.22},{"r":3,"s":"H","c":1,"x":-1,"y":0.32},{"r":3,"s":"H","c":1,"x":-0.5,"y":0.45},{"r":3,"s":"H","c":1,"x":0,"y":0.65},{"r":3,"s":"H","c":1,"x":0.5,"y":0.99},{"r":3,"s":"H","c":1,"x":1,"y":0.45},{"r":3,"s":"H","c":1,"x":1.5,"y":0.12},{"r":3,"s":"H","c":1,"x":2,"y":0.03},{"r":3,"s":"H","c":1,"x":2.5,"y":0.01},{"r":3,"s":"H","c":1,"x":3,"y":0},{"r":3,"s":"H","c":1,"x":3.5,"y":0},{"r":3,"s":"H","c":1,"x":4,"y":0},
      {"r":3,"s":"H","c":2,"x":-4,"y":0},{"r":3,"s":"H","c":2,"x":-3.5,"y":0.005},{"r":3,"s":"H","c":2,"x":-3,"y":0.02},{"r":3,"s":"H","c":2,"x":-2.5,"y":0.06},{"r":3,"s":"H","c":2,"x":-2,"y":0.12},{"r":3,"s":"H","c":2,"x":-1.5,"y":0.2},{"r":3,"s":"H","c":2,"x":-1,"y":0.3},{"r":3,"s":"H","c":2,"x":-0.5,"y":0.4},{"r":3,"s":"H","c":2,"x":0,"y":0.5},{"r":3,"s":"H","c":2,"x":0.5,"y":0.68},{"r":3,"s":"H","c":2,"x":1,"y":0.9},{"r":3,"s":"H","c":2,"x":1.5,"y":0.3},{"r":3,"s":"H","c":2,"x":2,"y":0.06},{"r":3,"s":"H","c":2,"x":2.5,"y":0.01},{"r":3,"s":"H","c":2,"x":3,"y":0},{"r":3,"s":"H","c":2,"x":3.5,"y":0},{"r":3,"s":"H","c":2,"x":4,"y":0},
      {"r":3,"s":"H","c":3,"x":-4,"y":0},{"r":3,"s":"H","c":3,"x":-3.5,"y":0},{"r":3,"s":"H","c":3,"x":-3,"y":0.02},{"r":3,"s":"H","c":3,"x":-2.5,"y":0.05},{"r":3,"s":"H","c":3,"x":-2,"y":0.11},{"r":3,"s":"H","c":3,"x":-1.5,"y":0.2},{"r":3,"s":"H","c":3,"x":-1,"y":0.3},{"r":3,"s":"H","c":3,"x":-0.5,"y":0.42},{"r":3,"s":"H","c":3,"x":0,"y":0.6},{"r":3,"s":"H","c":3,"x":0.5,"y":0.8},{"r":3,"s":"H","c":3,"x":1,"y":0.5},{"r":3,"s":"H","c":3,"x":1.5,"y":0.15},{"r":3,"s":"H","c":3,"x":2,"y":0.03},{"r":3,"s":"H","c":3,"x":2.5,"y":0.005},{"r":3,"s":"H","c":3,"x":3,"y":0},{"r":3,"s":"H","c":3,"x":3.5,"y":0},{"r":3,"s":"H","c":3,"x":4,"y":0},
      {"r":3,"s":"H","c":4,"x":-4,"y":0},{"r":3,"s":"H","c":4,"x":-3.5,"y":0},{"r":3,"s":"H","c":4,"x":-3,"y":0.03},{"r":3,"s":"H","c":4,"x":-2.5,"y":0.07},{"r":3,"s":"H","c":4,"x":-2,"y":0.14},{"r":3,"s":"H","c":4,"x":-1.5,"y":0.23},{"r":3,"s":"H","c":4,"x":-1,"y":0.33},{"r":3,"s":"H","c":4,"x":-0.5,"y":0.45},{"r":3,"s":"H","c":4,"x":0,"y":0.6},{"r":3,"s":"H","c":4,"x":0.5,"y":0.72},{"r":3,"s":"H","c":4,"x":1,"y":0.45},{"r":3,"s":"H","c":4,"x":1.5,"y":0.17},{"r":3,"s":"H","c":4,"x":2,"y":0.05},{"r":3,"s":"H","c":4,"x":2.5,"y":0.01},{"r":3,"s":"H","c":4,"x":3,"y":0},{"r":3,"s":"H","c":4,"x":3.5,"y":0},{"r":3,"s":"H","c":4,"x":4,"y":0},
      {"r":3,"s":"H","c":5,"x":-4,"y":0},{"r":3,"s":"H","c":5,"x":-3.5,"y":0},{"r":3,"s":"H","c":5,"x":-3,"y":0.02},{"r":3,"s":"H","c":5,"x":-2.5,"y":0.05},{"r":3,"s":"H","c":5,"x":-2,"y":0.1},{"r":3,"s":"H","c":5,"x":-1.5,"y":0.17},{"r":3,"s":"H","c":5,"x":-1,"y":0.27},{"r":3,"s":"H","c":5,"x":-0.5,"y":0.38},{"r":3,"s":"H","c":5,"x":0,"y":0.48},{"r":3,"s":"H","c":5,"x":0.5,"y":0.6},{"r":3,"s":"H","c":5,"x":1,"y":0.85},{"r":3,"s":"H","c":5,"x":1.5,"y":0.2},{"r":3,"s":"H","c":5,"x":2,"y":0.03},{"r":3,"s":"H","c":5,"x":2.5,"y":0},{"r":3,"s":"H","c":5,"x":3,"y":0},{"r":3,"s":"H","c":5,"x":3.5,"y":0},{"r":3,"s":"H","c":5,"x":4,"y":0},
      {"r":3,"s":"P","c":1,"x":-4,"y":0},{"r":3,"s":"P","c":1,"x":-3.5,"y":0.01},{"r":3,"s":"P","c":1,"x":-3,"y":0.03},{"r":3,"s":"P","c":1,"x":-2.5,"y":0.07},{"r":3,"s":"P","c":1,"x":-2,"y":0.14},{"r":3,"s":"P","c":1,"x":-1.5,"y":0.24},{"r":3,"s":"P","c":1,"x":-1,"y":0.34},{"r":3,"s":"P","c":1,"x":-0.5,"y":0.42},{"r":3,"s":"P","c":1,"x":0,"y":0.45},{"r":3,"s":"P","c":1,"x":0.5,"y":0.44},{"r":3,"s":"P","c":1,"x":1,"y":0.4},{"r":3,"s":"P","c":1,"x":1.5,"y":0.34},{"r":3,"s":"P","c":1,"x":2,"y":0.27},{"r":3,"s":"P","c":1,"x":2.5,"y":0.19},{"r":3,"s":"P","c":1,"x":3,"y":0.12},{"r":3,"s":"P","c":1,"x":3.5,"y":0.06},{"r":3,"s":"P","c":1,"x":4,"y":0.03},
      {"r":3,"s":"P","c":2,"x":-4,"y":0},{"r":3,"s":"P","c":2,"x":-3.5,"y":0.005},{"r":3,"s":"P","c":2,"x":-3,"y":0.02},{"r":3,"s":"P","c":2,"x":-2.5,"y":0.05},{"r":3,"s":"P","c":2,"x":-2,"y":0.11},{"r":3,"s":"P","c":2,"x":-1.5,"y":0.2},{"r":3,"s":"P","c":2,"x":-1,"y":0.3},{"r":3,"s":"P","c":2,"x":-0.5,"y":0.38},{"r":3,"s":"P","c":2,"x":0,"y":0.42},{"r":3,"s":"P","c":2,"x":0.5,"y":0.42},{"r":3,"s":"P","c":2,"x":1,"y":0.39},{"r":3,"s":"P","c":2,"x":1.5,"y":0.34},{"r":3,"s":"P","c":2,"x":2,"y":0.28},{"r":3,"s":"P","c":2,"x":2.5,"y":0.21},{"r":3,"s":"P","c":2,"x":3,"y":0.14},{"r":3,"s":"P","c":2,"x":3.5,"y":0.08},{"r":3,"s":"P","c":2,"x":4,"y":0.04},
      {"r":3,"s":"P","c":3,"x":-4,"y":0.005},{"r":3,"s":"P","c":3,"x":-3.5,"y":0.01},{"r":3,"s":"P","c":3,"x":-3,"y":0.03},{"r":3,"s":"P","c":3,"x":-2.5,"y":0.06},{"r":3,"s":"P","c":3,"x":-2,"y":0.12},{"r":3,"s":"P","c":3,"x":-1.5,"y":0.2},{"r":3,"s":"P","c":3,"x":-1,"y":0.29},{"r":3,"s":"P","c":3,"x":-0.5,"y":0.36},{"r":3,"s":"P","c":3,"x":0,"y":0.39},{"r":3,"s":"P","c":3,"x":0.5,"y":0.38},{"r":3,"s":"P","c":3,"x":1,"y":0.34},{"r":3,"s":"P","c":3,"x":1.5,"y":0.28},{"r":3,"s":"P","c":3,"x":2,"y":0.21},{"r":3,"s":"P","c":3,"x":2.5,"y":0.14},{"r":3,"s":"P","c":3,"x":3,"y":0.08},{"r":3,"s":"P","c":3,"x":3.5,"y":0.04},{"r":3,"s":"P","c":3,"x":4,"y":0.02},

      {"r":4,"s":"P","c":0,"x":-6,"y":0},{"r":4,"s":"P","c":0,"x":-5,"y":0},{"r":4,"s":"P","c":0,"x":-4.5,"y":0},{"r":4,"s":"P","c":0,"x":-4,"y":0.002},{"r":4,"s":"P","c":0,"x":-3.5,"y":0.006},{"r":4,"s":"P","c":0,"x":-3,"y":0.015},{"r":4,"s":"P","c":0,"x":-2.5,"y":0.03},{"r":4,"s":"P","c":0,"x":-2.25,"y":0.04},{"r":4,"s":"P","c":0,"x":-2,"y":0.055},{"r":4,"s":"P","c":0,"x":-1.75,"y":0.075},{"r":4,"s":"P","c":0,"x":-1.5,"y":0.1},{"r":4,"s":"P","c":0,"x":-1.25,"y":0.125},{"r":4,"s":"P","c":0,"x":-1,"y":0.16},{"r":4,"s":"P","c":0,"x":-0.75,"y":0.2},{"r":4,"s":"P","c":0,"x":-0.5,"y":0.245},{"r":4,"s":"P","c":0,"x":-0.25,"y":0.27},{"r":4,"s":"P","c":0,"x":0,"y":0.26},{"r":4,"s":"P","c":0,"x":0.25,"y":0.19},{"r":4,"s":"P","c":0,"x":0.5,"y":0.03},{"r":4,"s":"P","c":0,"x":0.75,"y":-0.09},{"r":4,"s":"P","c":0,"x":1,"y":-0.16},{"r":4,"s":"P","c":0,"x":1.25,"y":-0.2},{"r":4,"s":"P","c":0,"x":1.5,"y":-0.21},{"r":4,"s":"P","c":0,"x":1.75,"y":-0.18},{"r":4,"s":"P","c":0,"x":2,"y":-0.13},{"r":4,"s":"P","c":0,"x":2.25,"y":-0.08},{"r":4,"s":"P","c":0,"x":2.5,"y":-0.04},{"r":4,"s":"P","c":0,"x":3,"y":-0.008},{"r":4,"s":"P","c":0,"x":3.5,"y":0},{"r":4,"s":"P","c":0,"x":4,"y":0},{"r":4,"s":"P","c":0,"x":4.5,"y":0},{"r":4,"s":"P","c":0,"x":5,"y":0},{"r":4,"s":"P","c":0,"x":6,"y":0},
      {"r":4,"s":"H","c":0,"x":-6,"y":0},{"r":4,"s":"H","c":0,"x":-5,"y":0},{"r":4,"s":"H","c":0,"x":-4.5,"y":0},{"r":4,"s":"H","c":0,"x":-4,"y":0},{"r":4,"s":"H","c":0,"x":-3.5,"y":0},{"r":4,"s":"H","c":0,"x":-3,"y":-0.002},{"r":4,"s":"H","c":0,"x":-2.5,"y":-0.01},{"r":4,"s":"H","c":0,"x":-2.25,"y":-0.03},{"r":4,"s":"H","c":0,"x":-2,"y":-0.07},{"r":4,"s":"H","c":0,"x":-1.75,"y":-0.15},{"r":4,"s":"H","c":0,"x":-1.5,"y":-0.24},{"r":4,"s":"H","c":0,"x":-1.25,"y":-0.26},{"r":4,"s":"H","c":0,"x":-1,"y":-0.19},{"r":4,"s":"H","c":0,"x":-0.75,"y":-0.09},{"r":4,"s":"H","c":0,"x":-0.5,"y":-0.02},{"r":4,"s":"H","c":0,"x":-0.25,"y":0.05},{"r":4,"s":"H","c":0,"x":0,"y":0.15},{"r":4,"s":"H","c":0,"x":0.25,"y":0.25},{"r":4,"s":"H","c":0,"x":0.5,"y":0.26},{"r":4,"s":"H","c":0,"x":0.75,"y":0.23},{"r":4,"s":"H","c":0,"x":1,"y":0.18},{"r":4,"s":"H","c":0,"x":1.25,"y":0.12},{"r":4,"s":"H","c":0,"x":1.5,"y":0.08},{"r":4,"s":"H","c":0,"x":1.75,"y":0.05},{"r":4,"s":"H","c":0,"x":2,"y":0.03},{"r":4,"s":"H","c":0,"x":2.25,"y":0.018},{"r":4,"s":"H","c":0,"x":2.5,"y":0.01},{"r":4,"s":"H","c":0,"x":3,"y":0.003},{"r":4,"s":"H","c":0,"x":3.5,"y":0},{"r":4,"s":"H","c":0,"x":4,"y":0},{"r":4,"s":"H","c":0,"x":4.5,"y":0},{"r":4,"s":"H","c":0,"x":5,"y":0},{"r":4,"s":"H","c":0,"x":6,"y":0},
      {"r":4,"s":"P","c":1,"x":-4,"y":0},{"r":4,"s":"P","c":1,"x":-3.5,"y":0.005},{"r":4,"s":"P","c":1,"x":-3,"y":0.02},{"r":4,"s":"P","c":1,"x":-2.5,"y":0.05},{"r":4,"s":"P","c":1,"x":-2,"y":0.1},{"r":4,"s":"P","c":1,"x":-1.5,"y":0.18},{"r":4,"s":"P","c":1,"x":-1,"y":0.3},{"r":4,"s":"P","c":1,"x":-0.5,"y":0.39},{"r":4,"s":"P","c":1,"x":0,"y":0.2},{"r":4,"s":"P","c":1,"x":0.5,"y":-0.12},{"r":4,"s":"P","c":1,"x":1,"y":-0.3},{"r":4,"s":"P","c":1,"x":1.5,"y":-0.33},{"r":4,"s":"P","c":1,"x":2,"y":-0.18},{"r":4,"s":"P","c":1,"x":2.5,"y":-0.06},{"r":4,"s":"P","c":1,"x":3,"y":-0.01},{"r":4,"s":"P","c":1,"x":3.5,"y":0},{"r":4,"s":"P","c":1,"x":4,"y":0},
      {"r":4,"s":"P","c":2,"x":-4,"y":0},{"r":4,"s":"P","c":2,"x":-3.5,"y":0.01},{"r":4,"s":"P","c":2,"x":-3,"y":0.03},{"r":4,"s":"P","c":2,"x":-2.5,"y":0.06},{"r":4,"s":"P","c":2,"x":-2,"y":0.12},{"r":4,"s":"P","c":2,"x":-1.5,"y":0.22},{"r":4,"s":"P","c":2,"x":-1,"y":0.32},{"r":4,"s":"P","c":2,"x":-0.5,"y":0.3},{"r":4,"s":"P","c":2,"x":0,"y":0.05},{"r":4,"s":"P","c":2,"x":0.5,"y":-0.2},{"r":4,"s":"P","c":2,"x":1,"y":-0.32},{"r":4,"s":"P","c":2,"x":1.5,"y":-0.22},{"r":4,"s":"P","c":2,"x":2,"y":-0.08},{"r":4,"s":"P","c":2,"x":2.5,"y":-0.02},{"r":4,"s":"P","c":2,"x":3,"y":0},{"r":4,"s":"P","c":2,"x":3.5,"y":0},{"r":4,"s":"P","c":2,"x":4,"y":0},
      {"r":4,"s":"P","c":3,"x":-4,"y":0},{"r":4,"s":"P","c":3,"x":-3.5,"y":0.003},{"r":4,"s":"P","c":3,"x":-3,"y":0.01},{"r":4,"s":"P","c":3,"x":-2.5,"y":0.03},{"r":4,"s":"P","c":3,"x":-2,"y":0.06},{"r":4,"s":"P","c":3,"x":-1.5,"y":0.12},{"r":4,"s":"P","c":3,"x":-1,"y":0.2},{"r":4,"s":"P","c":3,"x":-0.5,"y":0.28},{"r":4,"s":"P","c":3,"x":0,"y":0.26},{"r":4,"s":"P","c":3,"x":0.5,"y":0.05},{"r":4,"s":"P","c":3,"x":1,"y":-0.18},{"r":4,"s":"P","c":3,"x":1.5,"y":-0.28},{"r":4,"s":"P","c":3,"x":2,"y":-0.25},{"r":4,"s":"P","c":3,"x":2.5,"y":-0.12},{"r":4,"s":"P","c":3,"x":3,"y":-0.03},{"r":4,"s":"P","c":3,"x":3.5,"y":-0.005},{"r":4,"s":"P","c":3,"x":4,"y":0},
      {"r":4,"s":"P","c":4,"x":-4,"y":0},{"r":4,"s":"P","c":4,"x":-3.5,"y":0.004},{"r":4,"s":"P","c":4,"x":-3,"y":0.015},{"r":4,"s":"P","c":4,"x":-2.5,"y":0.04},{"r":4,"s":"P","c":4,"x":-2,"y":0.08},{"r":4,"s":"P","c":4,"x":-1.5,"y":0.15},{"r":4,"s":"P","c":4,"x":-1,"y":0.25},{"r":4,"s":"P","c":4,"x":-0.5,"y":0.35},{"r":4,"s":"P","c":4,"x":0,"y":0.3},{"r":4,"s":"P","c":4,"x":0.5,"y":0},{"r":4,"s":"P","c":4,"x":1,"y":-0.25},{"r":4,"s":"P","c":4,"x":1.5,"y":-0.35},{"r":4,"s":"P","c":4,"x":2,"y":-0.2},{"r":4,"s":"P","c":4,"x":2.5,"y":-0.07},{"r":4,"s":"P","c":4,"x":3,"y":-0.015},{"r":4,"s":"P","c":4,"x":3.5,"y":0},{"r":4,"s":"P","c":4,"x":4,"y":0},
      {"r":4,"s":"H","c":1,"x":-4,"y":0},{"r":4,"s":"H","c":1,"x":-3.5,"y":0},{"r":4,"s":"H","c":1,"x":-3,"y":-0.005},{"r":4,"s":"H","c":1,"x":-2.5,"y":-0.02},{"r":4,"s":"H","c":1,"x":-2,"y":-0.1},{"r":4,"s":"H","c":1,"x":-1.5,"y":-0.3},{"r":4,"s":"H","c":1,"x":-1,"y":-0.33},{"r":4,"s":"H","c":1,"x":-0.5,"y":0.05},{"r":4,"s":"H","c":1,"x":0,"y":0.45},{"r":4,"s":"H","c":1,"x":0.5,"y":0.4},{"r":4,"s":"H","c":1,"x":1,"y":0.2},{"r":4,"s":"H","c":1,"x":1.5,"y":0.08},{"r":4,"s":"H","c":1,"x":2,"y":0.025},{"r":4,"s":"H","c":1,"x":2.5,"y":0.005},{"r":4,"s":"H","c":1,"x":3,"y":0},{"r":4,"s":"H","c":1,"x":3.5,"y":0},{"r":4,"s":"H","c":1,"x":4,"y":0},
      {"r":4,"s":"H","c":2,"x":-4,"y":0},{"r":4,"s":"H","c":2,"x":-3.5,"y":0},{"r":4,"s":"H","c":2,"x":-3,"y":-0.01},{"r":4,"s":"H","c":2,"x":-2.5,"y":-0.04},{"r":4,"s":"H","c":2,"x":-2,"y":-0.14},{"r":4,"s":"H","c":2,"x":-1.5,"y":-0.3},{"r":4,"s":"H","c":2,"x":-1,"y":-0.25},{"r":4,"s":"H","c":2,"x":-0.5,"y":0.1},{"r":4,"s":"H","c":2,"x":0,"y":0.57},{"r":4,"s":"H","c":2,"x":0.5,"y":0.3},{"r":4,"s":"H","c":2,"x":1,"y":0.12},{"r":4,"s":"H","c":2,"x":1.5,"y":0.04},{"r":4,"s":"H","c":2,"x":2,"y":0.01},{"r":4,"s":"H","c":2,"x":2.5,"y":0},{"r":4,"s":"H","c":2,"x":3,"y":0},{"r":4,"s":"H","c":2,"x":3.5,"y":0},{"r":4,"s":"H","c":2,"x":4,"y":0},
      {"r":4,"s":"H","c":3,"x":-4,"y":0},{"r":4,"s":"H","c":3,"x":-3.5,"y":-0.003},{"r":4,"s":"H","c":3,"x":-3,"y":-0.01},{"r":4,"s":"H","c":3,"x":-2.5,"y":-0.03},{"r":4,"s":"H","c":3,"x":-2,"y":-0.08},{"r":4,"s":"H","c":3,"x":-1.5,"y":-0.2},{"r":4,"s":"H","c":3,"x":-1,"y":-0.28},{"r":4,"s":"H","c":3,"x":-0.5,"y":-0.05},{"r":4,"s":"H","c":3,"x":0,"y":0.3},{"r":4,"s":"H","c":3,"x":0.5,"y":0.4},{"r":4,"s":"H","c":3,"x":1,"y":0.25},{"r":4,"s":"H","c":3,"x":1.5,"y":0.1},{"r":4,"s":"H","c":3,"x":2,"y":0.03},{"r":4,"s":"H","c":3,"x":2.5,"y":0.01},{"r":4,"s":"H","c":3,"x":3,"y":0},{"r":4,"s":"H","c":3,"x":3.5,"y":0},{"r":4,"s":"H","c":3,"x":4,"y":0},
      {"r":4,"s":"H","c":4,"x":-4,"y":0},{"r":4,"s":"H","c":4,"x":-3.5,"y":0},{"r":4,"s":"H","c":4,"x":-3,"y":-0.005},{"r":4,"s":"H","c":4,"x":-2.5,"y":-0.02},{"r":4,"s":"H","c":4,"x":-2,"y":-0.06},{"r":4,"s":"H","c":4,"x":-1.5,"y":-0.16},{"r":4,"s":"H","c":4,"x":-1,"y":-0.3},{"r":4,"s":"H","c":4,"x":-0.5,"y":-0.2},{"r":4,"s":"H","c":4,"x":0,"y":0.15},{"r":4,"s":"H","c":4,"x":0.5,"y":0.42},{"r":4,"s":"H","c":4,"x":1,"y":0.3},{"r":4,"s":"H","c":4,"x":1.5,"y":0.12},{"r":4,"s":"H","c":4,"x":2,"y":0.04},{"r":4,"s":"H","c":4,"x":2.5,"y":0.01},{"r":4,"s":"H","c":4,"x":3,"y":0},{"r":4,"s":"H","c":4,"x":3.5,"y":0},{"r":4,"s":"H","c":4,"x":4,"y":0}
    ]
  },
  "vconcat": [
    {
      "width": 560,
      "height": 19,
      "view": {"stroke": null},
      "data": {"name": "auc"},
      "transform": [{"filter": "datum.r == 1"}],
      "encoding": {
        "x": {"field": "set", "type": "nominal", "scale": {"domain": ["FWHM--W80", "Hermite-like", "Path"], "paddingInner": 0, "paddingOuter": 0.147, "align": 0}, "axis": null}
      },
      "layer": [
        {"mark": {"type": "bar", "width": 42, "cornerRadius": 9.5},
         "encoding": {"color": {"field": "set", "type": "nominal", "scale": {"domain": ["FWHM--W80", "Hermite-like", "Path"], "range": ["#d6d2cb", "#eedcc7", "#7b8fa9"]}, "legend": null}}},
        {"mark": {"type": "point", "filled": false, "fill": "white", "fillOpacity": 1, "strokeWidth": 3, "opacity": 1},
         "encoding": {
           "shape": {"field": "set", "type": "nominal", "scale": {"domain": ["FWHM--W80", "Hermite-like", "Path"], "range": ["circle", "square", "triangle-up"]}, "legend": null},
           "size": {"field": "set", "type": "nominal", "scale": {"type": "ordinal", "domain": ["FWHM--W80", "Hermite-like", "Path"], "range": [240, 220, 440]}, "legend": null},
           "stroke": {"field": "set", "type": "nominal", "scale": {"domain": ["FWHM--W80", "Hermite-like", "Path"], "range": ["#b3aa9d", "#d9b48b", "#1d3b60"]}, "legend": null}
         }},
        {"mark": {"type": "text", "align": "left", "baseline": "middle", "dx": 27, "fontSize": 20, "color": "#111111"},
         "encoding": {"text": {"field": "set"}}}
      ]
    },
    {
      "spacing": 22,
      "hconcat": [
        {
          "spacing": 11,
          "bounds": "flush",
          "vconcat": [
            {
              "width": 228, "height": 108,
              "layer": [
                {"data": {"name": "base"}, "mark": {"type": "rule", "color": "#9a9a9a", "strokeWidth": 1},
                 "encoding": {"y": {"field": "level", "type": "quantitative", "scale": {"domain": [-0.04, 1.04], "nice": false, "zero": false}, "axis": {"domainColor": "#000000", "domainWidth": 2, "ticks": false, "labels": false, "grid": false, "title": null}}}},
                {"data": {"name": "prof"}, "transform": [{"filter": "datum.r == 1 && datum.c > 0"}],
                 "mark": {"type": "line", "interpolate": "monotone", "strokeWidth": 1, "opacity": 0.4},
                 "encoding": {
                   "x": {"field": "x", "type": "quantitative", "scale": {"domain": [-6.58, 6.58], "nice": false}, "axis": null},
                   "y": {"field": "y", "type": "quantitative", "axis": {"domainColor": "#000000", "domainWidth": 2, "ticks": false, "labels": false, "grid": false, "title": null}},
                   "detail": {"field": "c"},
                   "color": {"field": "s", "type": "nominal", "scale": {"domain": ["F", "H", "P"], "range": ["#8c7f6f", "#f0a360", "#56708e"]}, "legend": null}
                 }},
                {"data": {"name": "prof"}, "transform": [{"filter": "datum.r == 1 && datum.c == 0 && datum.s == 'P'"}],
                 "mark": {"type": "line", "interpolate": "monotone", "strokeWidth": 4.5, "color": "#1e3a5f"},
                 "encoding": {"x": {"field": "x", "type": "quantitative", "axis": null}, "y": {"field": "y", "type": "quantitative", "axis": {"domainColor": "#000000", "domainWidth": 2, "ticks": false, "labels": false, "grid": false, "title": null}}}},
                {"data": {"name": "prof"}, "transform": [{"filter": "datum.r == 1 && datum.c == 0 && datum.s == 'H'"}],
                 "mark": {"type": "line", "interpolate": "monotone", "strokeWidth": 4.5, "color": "#ec8e3a"},
                 "encoding": {"x": {"field": "x", "type": "quantitative", "axis": null}, "y": {"field": "y", "type": "quantitative", "axis": {"domainColor": "#000000", "domainWidth": 2, "ticks": false, "labels": false, "grid": false, "title": null}}}}
              ],
              "resolve": {"scale": {"color": "independent"}}
            },
            {
              "width": 228, "height": 108,
              "layer": [
                {"data": {"name": "base"}, "mark": {"type": "rule", "color": "#9a9a9a", "strokeWidth": 1},
                 "encoding": {"y": {"field": "level", "type": "quantitative", "scale": {"domain": [-0.04, 1.04], "nice": false, "zero": false}, "axis": {"domainColor": "#000000", "domainWidth": 2, "ticks": false, "labels": false, "grid": false, "title": null}}}},
                {"data": {"name": "prof"}, "transform": [{"filter": "datum.r == 2 && datum.c > 0"}],
                 "mark": {"type": "line", "interpolate": "monotone", "strokeWidth": 1, "opacity": 0.4},
                 "encoding": {
                   "x": {"field": "x", "type": "quantitative", "scale": {"domain": [-6.58, 6.58], "nice": false}, "axis": null},
                   "y": {"field": "y", "type": "quantitative", "axis": {"domainColor": "#000000", "domainWidth": 2, "ticks": false, "labels": false, "grid": false, "title": null}},
                   "detail": {"field": "c"},
                   "color": {"field": "s", "type": "nominal", "scale": {"domain": ["F", "H", "P"], "range": ["#8c7f6f", "#f0a360", "#56708e"]}, "legend": null}
                 }},
                {"data": {"name": "prof"}, "transform": [{"filter": "datum.r == 2 && datum.c == 0 && datum.s == 'H'"}],
                 "mark": {"type": "line", "interpolate": "monotone", "strokeWidth": 4.5, "color": "#ec8e3a"},
                 "encoding": {"x": {"field": "x", "type": "quantitative", "axis": null}, "y": {"field": "y", "type": "quantitative", "axis": {"domainColor": "#000000", "domainWidth": 2, "ticks": false, "labels": false, "grid": false, "title": null}}}},
                {"data": {"name": "prof"}, "transform": [{"filter": "datum.r == 2 && datum.c == 0 && datum.s == 'P'"}],
                 "mark": {"type": "line", "interpolate": "monotone", "strokeWidth": 4.5, "color": "#1e3a5f"},
                 "encoding": {"x": {"field": "x", "type": "quantitative", "axis": null}, "y": {"field": "y", "type": "quantitative", "axis": {"domainColor": "#000000", "domainWidth": 2, "ticks": false, "labels": false, "grid": false, "title": null}}}}
              ],
              "resolve": {"scale": {"color": "independent"}}
            },
            {
              "width": 228, "height": 108,
              "layer": [
                {"data": {"name": "base"}, "mark": {"type": "rule", "color": "#9a9a9a", "strokeWidth": 1},
                 "encoding": {"y": {"field": "level", "type": "quantitative", "scale": {"domain": [-0.04, 1.04], "nice": false, "zero": false}, "axis": {"domainColor": "#000000", "domainWidth": 2, "ticks": false, "labels": false, "grid": false, "title": null}}}},
                {"data": {"name": "prof"}, "transform": [{"filter": "datum.r == 3 && datum.c > 0"}],
                 "mark": {"type": "line", "interpolate": "monotone", "strokeWidth": 1, "opacity": 0.4},
                 "encoding": {
                   "x": {"field": "x", "type": "quantitative", "scale": {"domain": [-6.58, 6.58], "nice": false}, "axis": null},
                   "y": {"field": "y", "type": "quantitative", "axis": {"domainColor": "#000000", "domainWidth": 2, "ticks": false, "labels": false, "grid": false, "title": null}},
                   "detail": {"field": "c"},
                   "color": {"field": "s", "type": "nominal", "scale": {"domain": ["F", "H", "P"], "range": ["#8c7f6f", "#f0a360", "#56708e"]}, "legend": null}
                 }},
                {"data": {"name": "prof"}, "transform": [{"filter": "datum.r == 3 && datum.c == 0 && datum.s == 'H'"}],
                 "mark": {"type": "line", "interpolate": "monotone", "strokeWidth": 4.5, "color": "#ec8e3a"},
                 "encoding": {"x": {"field": "x", "type": "quantitative", "axis": null}, "y": {"field": "y", "type": "quantitative", "axis": {"domainColor": "#000000", "domainWidth": 2, "ticks": false, "labels": false, "grid": false, "title": null}}}},
                {"data": {"name": "prof"}, "transform": [{"filter": "datum.r == 3 && datum.c == 0 && datum.s == 'P'"}],
                 "mark": {"type": "line", "interpolate": "monotone", "strokeWidth": 4.5, "color": "#1e3a5f"},
                 "encoding": {"x": {"field": "x", "type": "quantitative", "axis": null}, "y": {"field": "y", "type": "quantitative", "axis": {"domainColor": "#000000", "domainWidth": 2, "ticks": false, "labels": false, "grid": false, "title": null}}}}
              ],
              "resolve": {"scale": {"color": "independent"}}
            },
            {
              "width": 228, "height": 108,
              "layer": [
                {"data": {"name": "base"}, "mark": {"type": "rule", "color": "#9a9a9a", "strokeWidth": 1},
                 "encoding": {"y": {"field": "level", "type": "quantitative", "scale": {"domain": [-0.45, 0.63], "nice": false, "zero": false}, "axis": {"domainColor": "#000000", "domainWidth": 2, "ticks": false, "labels": false, "grid": false, "title": null}}}},
                {"data": {"name": "prof"}, "transform": [{"filter": "datum.r == 4 && datum.c > 0"}],
                 "mark": {"type": "line", "interpolate": "monotone", "strokeWidth": 1, "opacity": 0.4},
                 "encoding": {
                   "x": {"field": "x", "type": "quantitative", "scale": {"domain": [-6.58, 6.58], "nice": false},
                         "axis": {"values": [-6, 0, 6], "labelExpr": "replace(datum.label, '\u2212', '-')", "grid": false, "domainColor": "#000000", "domainWidth": 1.5, "tickColor": "#000000", "tickSize": 6, "labelFontSize": 16, "labelColor": "#111111", "labelPadding": 4, "title": "\u0394v", "titleFontSize": 18, "titleFontWeight": "normal", "titleColor": "#111111", "titlePadding": 9}},
                   "y": {"field": "y", "type": "quantitative", "axis": {"domainColor": "#000000", "domainWidth": 2, "ticks": false, "labels": false, "grid": false, "title": null}},
                   "detail": {"field": "c"},
                   "color": {"field": "s", "type": "nominal", "scale": {"domain": ["F", "H", "P"], "range": ["#8c7f6f", "#f0a360", "#56708e"]}, "legend": null}
                 }},
                {"data": {"name": "prof"}, "transform": [{"filter": "datum.r == 4 && datum.c == 0 && datum.s == 'P'"}],
                 "mark": {"type": "line", "interpolate": "monotone", "strokeWidth": 4.5, "color": "#1e3a5f"},
                 "encoding": {"x": {"field": "x", "type": "quantitative", "axis": {"values": [-6, 0, 6], "labelExpr": "replace(datum.label, '\u2212', '-')", "grid": false, "domainColor": "#000000", "domainWidth": 1.5, "tickColor": "#000000", "tickSize": 6, "labelFontSize": 16, "labelColor": "#111111", "labelPadding": 4, "title": "\u0394v", "titleFontSize": 18, "titleFontWeight": "normal", "titleColor": "#111111", "titlePadding": 9}}, "y": {"field": "y", "type": "quantitative", "axis": {"domainColor": "#000000", "domainWidth": 2, "ticks": false, "labels": false, "grid": false, "title": null}}}},
                {"data": {"name": "prof"}, "transform": [{"filter": "datum.r == 4 && datum.c == 0 && datum.s == 'H'"}],
                 "mark": {"type": "line", "interpolate": "monotone", "strokeWidth": 4.5, "color": "#ec8e3a"},
                 "encoding": {"x": {"field": "x", "type": "quantitative", "axis": {"values": [-6, 0, 6], "labelExpr": "replace(datum.label, '\u2212', '-')", "grid": false, "domainColor": "#000000", "domainWidth": 1.5, "tickColor": "#000000", "tickSize": 6, "labelFontSize": 16, "labelColor": "#111111", "labelPadding": 4, "title": "\u0394v", "titleFontSize": 18, "titleFontWeight": "normal", "titleColor": "#111111", "titlePadding": 9}}, "y": {"field": "y", "type": "quantitative", "axis": {"domainColor": "#000000", "domainWidth": 2, "ticks": false, "labels": false, "grid": false, "title": null}}}}
              ],
              "resolve": {"scale": {"color": "independent"}}
            }
          ]
        },
        {
          "spacing": 11,
          "bounds": "flush",
          "vconcat": [
            {
              "width": 717, "height": 108,
              "data": {"name": "auc"},
              "transform": [{"filter": "datum.r == 1"}],
              "encoding": {
                "y": {"field": "set", "type": "nominal", "scale": {"domain": ["Path", "Hermite-like", "FWHM--W80"], "paddingInner": 0, "paddingOuter": 0}, "axis": {"domainColor": "#000000", "domainWidth": 2, "ticks": false, "labels": false, "grid": false, "title": null}}
              },
              "layer": [
                {"mark": {"type": "bar", "height": 18, "cornerRadius": 9},
                 "encoding": {
                   "x": {"field": "q1", "type": "quantitative", "scale": {"domain": [0.475, 1.0213], "nice": false, "zero": false}, "axis": {"values": [0.5, 0.75, 1], "grid": true, "gridColor": "#e4e0d9", "gridWidth": 1.5, "domain": false, "ticks": false, "labels": false, "title": null}},
                   "x2": {"field": "q3"},
                   "color": {"field": "set", "type": "nominal", "scale": {"domain": ["FWHM--W80", "Hermite-like", "Path"], "range": ["#d6d2cb", "#eedcc7", "#7b8fa9"]}, "legend": null}
                 }},
                {"mark": {"type": "rule", "strokeWidth": 3.5, "strokeCap": "round"},
                 "encoding": {
                   "x": {"field": "lo", "type": "quantitative"},
                   "x2": {"field": "hi"},
                   "color": {"field": "set", "type": "nominal", "scale": {"domain": ["FWHM--W80", "Hermite-like", "Path"], "range": ["#cac3b9", "#e6cca9", "#3d5a7f"]}, "legend": null}
                 }},
                {"mark": {"type": "point", "filled": false, "fill": "white", "fillOpacity": 1, "strokeWidth": 3, "opacity": 1},
                 "encoding": {
                   "x": {"field": "mid", "type": "quantitative"},
                   "shape": {"field": "set", "type": "nominal", "scale": {"domain": ["FWHM--W80", "Hermite-like", "Path"], "range": ["circle", "square", "triangle-up"]}, "legend": null},
                   "size": {"field": "set", "type": "nominal", "scale": {"type": "ordinal", "domain": ["FWHM--W80", "Hermite-like", "Path"], "range": [240, 220, 440]}, "legend": null},
                   "stroke": {"field": "set", "type": "nominal", "scale": {"domain": ["FWHM--W80", "Hermite-like", "Path"], "range": ["#b3aa9d", "#d9b48b", "#1d3b60"]}, "legend": null}
                 }}
              ],
              "resolve": {"scale": {"color": "independent"}}
            },
            {
              "width": 717, "height": 108,
              "data": {"name": "auc"},
              "transform": [{"filter": "datum.r == 2"}],
              "encoding": {
                "y": {"field": "set", "type": "nominal", "scale": {"domain": ["Path", "Hermite-like", "FWHM--W80"], "paddingInner": 0, "paddingOuter": 0}, "axis": {"domainColor": "#000000", "domainWidth": 2, "ticks": false, "labels": false, "grid": false, "title": null}}
              },
              "layer": [
                {"mark": {"type": "bar", "height": 18, "cornerRadius": 9},
                 "encoding": {
                   "x": {"field": "q1", "type": "quantitative", "scale": {"domain": [0.475, 1.0213], "nice": false, "zero": false}, "axis": {"values": [0.5, 0.75, 1], "grid": true, "gridColor": "#e4e0d9", "gridWidth": 1.5, "domain": false, "ticks": false, "labels": false, "title": null}},
                   "x2": {"field": "q3"},
                   "color": {"field": "set", "type": "nominal", "scale": {"domain": ["FWHM--W80", "Hermite-like", "Path"], "range": ["#d6d2cb", "#eedcc7", "#7b8fa9"]}, "legend": null}
                 }},
                {"mark": {"type": "rule", "strokeWidth": 3.5, "strokeCap": "round"},
                 "encoding": {
                   "x": {"field": "lo", "type": "quantitative"},
                   "x2": {"field": "hi"},
                   "color": {"field": "set", "type": "nominal", "scale": {"domain": ["FWHM--W80", "Hermite-like", "Path"], "range": ["#cac3b9", "#e6cca9", "#3d5a7f"]}, "legend": null}
                 }},
                {"mark": {"type": "point", "filled": false, "fill": "white", "fillOpacity": 1, "strokeWidth": 3, "opacity": 1},
                 "encoding": {
                   "x": {"field": "mid", "type": "quantitative"},
                   "shape": {"field": "set", "type": "nominal", "scale": {"domain": ["FWHM--W80", "Hermite-like", "Path"], "range": ["circle", "square", "triangle-up"]}, "legend": null},
                   "size": {"field": "set", "type": "nominal", "scale": {"type": "ordinal", "domain": ["FWHM--W80", "Hermite-like", "Path"], "range": [240, 220, 440]}, "legend": null},
                   "stroke": {"field": "set", "type": "nominal", "scale": {"domain": ["FWHM--W80", "Hermite-like", "Path"], "range": ["#b3aa9d", "#d9b48b", "#1d3b60"]}, "legend": null}
                 }}
              ],
              "resolve": {"scale": {"color": "independent"}}
            },
            {
              "width": 717, "height": 108,
              "data": {"name": "auc"},
              "transform": [{"filter": "datum.r == 3"}],
              "encoding": {
                "y": {"field": "set", "type": "nominal", "scale": {"domain": ["Path", "Hermite-like", "FWHM--W80"], "paddingInner": 0, "paddingOuter": 0}, "axis": {"domainColor": "#000000", "domainWidth": 2, "ticks": false, "labels": false, "grid": false, "title": null}}
              },
              "layer": [
                {"mark": {"type": "bar", "height": 18, "cornerRadius": 9},
                 "encoding": {
                   "x": {"field": "q1", "type": "quantitative", "scale": {"domain": [0.475, 1.0213], "nice": false, "zero": false}, "axis": {"values": [0.5, 0.75, 1], "grid": true, "gridColor": "#e4e0d9", "gridWidth": 1.5, "domain": false, "ticks": false, "labels": false, "title": null}},
                   "x2": {"field": "q3"},
                   "color": {"field": "set", "type": "nominal", "scale": {"domain": ["FWHM--W80", "Hermite-like", "Path"], "range": ["#d6d2cb", "#eedcc7", "#7b8fa9"]}, "legend": null}
                 }},
                {"mark": {"type": "rule", "strokeWidth": 3.5, "strokeCap": "round"},
                 "encoding": {
                   "x": {"field": "lo", "type": "quantitative"},
                   "x2": {"field": "hi"},
                   "color": {"field": "set", "type": "nominal", "scale": {"domain": ["FWHM--W80", "Hermite-like", "Path"], "range": ["#cac3b9", "#e6cca9", "#3d5a7f"]}, "legend": null}
                 }},
                {"mark": {"type": "point", "filled": false, "fill": "white", "fillOpacity": 1, "strokeWidth": 3, "opacity": 1},
                 "encoding": {
                   "x": {"field": "mid", "type": "quantitative"},
                   "shape": {"field": "set", "type": "nominal", "scale": {"domain": ["FWHM--W80", "Hermite-like", "Path"], "range": ["circle", "square", "triangle-up"]}, "legend": null},
                   "size": {"field": "set", "type": "nominal", "scale": {"type": "ordinal", "domain": ["FWHM--W80", "Hermite-like", "Path"], "range": [240, 220, 440]}, "legend": null},
                   "stroke": {"field": "set", "type": "nominal", "scale": {"domain": ["FWHM--W80", "Hermite-like", "Path"], "range": ["#b3aa9d", "#d9b48b", "#1d3b60"]}, "legend": null}
                 }}
              ],
              "resolve": {"scale": {"color": "independent"}}
            },
            {
              "width": 717, "height": 108,
              "data": {"name": "auc"},
              "transform": [{"filter": "datum.r == 4"}],
              "encoding": {
                "y": {"field": "set", "type": "nominal", "scale": {"domain": ["Path", "Hermite-like", "FWHM--W80"], "paddingInner": 0, "paddingOuter": 0}, "axis": {"domainColor": "#000000", "domainWidth": 2, "ticks": false, "labels": false, "grid": false, "title": null}}
              },
              "layer": [
                {"mark": {"type": "bar", "height": 18, "cornerRadius": 9},
                 "encoding": {
                   "x": {"field": "q1", "type": "quantitative", "scale": {"domain": [0.475, 1.0213], "nice": false, "zero": false}, "axis": {"values": [0.5, 0.75, 1], "format": ".2f", "grid": true, "gridColor": "#e4e0d9", "gridWidth": 1.5, "domainColor": "#000000", "domainWidth": 1.5, "tickColor": "#000000", "tickSize": 6, "labelFontSize": 17, "labelColor": "#111111", "labelPadding": 5, "title": "Separability AUC", "titleFontSize": 24, "titleFontWeight": "normal", "titleColor": "#111111", "titlePadding": 9}},
                   "x2": {"field": "q3"},
                   "color": {"field": "set", "type": "nominal", "scale": {"domain": ["FWHM--W80", "Hermite-like", "Path"], "range": ["#d6d2cb", "#eedcc7", "#7b8fa9"]}, "legend": null}
                 }},
                {"mark": {"type": "rule", "strokeWidth": 3.5, "strokeCap": "round"},
                 "encoding": {
                   "x": {"field": "lo", "type": "quantitative"},
                   "x2": {"field": "hi"},
                   "color": {"field": "set", "type": "nominal", "scale": {"domain": ["FWHM--W80", "Hermite-like", "Path"], "range": ["#cac3b9", "#e6cca9", "#3d5a7f"]}, "legend": null}
                 }},
                {"mark": {"type": "point", "filled": false, "fill": "white", "fillOpacity": 1, "strokeWidth": 3, "opacity": 1},
                 "encoding": {
                   "x": {"field": "mid", "type": "quantitative"},
                   "shape": {"field": "set", "type": "nominal", "scale": {"domain": ["FWHM--W80", "Hermite-like", "Path"], "range": ["circle", "square", "triangle-up"]}, "legend": null},
                   "size": {"field": "set", "type": "nominal", "scale": {"type": "ordinal", "domain": ["FWHM--W80", "Hermite-like", "Path"], "range": [240, 220, 440]}, "legend": null},
                   "stroke": {"field": "set", "type": "nominal", "scale": {"domain": ["FWHM--W80", "Hermite-like", "Path"], "range": ["#b3aa9d", "#d9b48b", "#1d3b60"]}, "legend": null}
                 }}
              ],
              "resolve": {"scale": {"color": "independent"}}
            }
          ]
        }
      ]
    }
  ],
  "spacing": 38,
  "center": true
}
